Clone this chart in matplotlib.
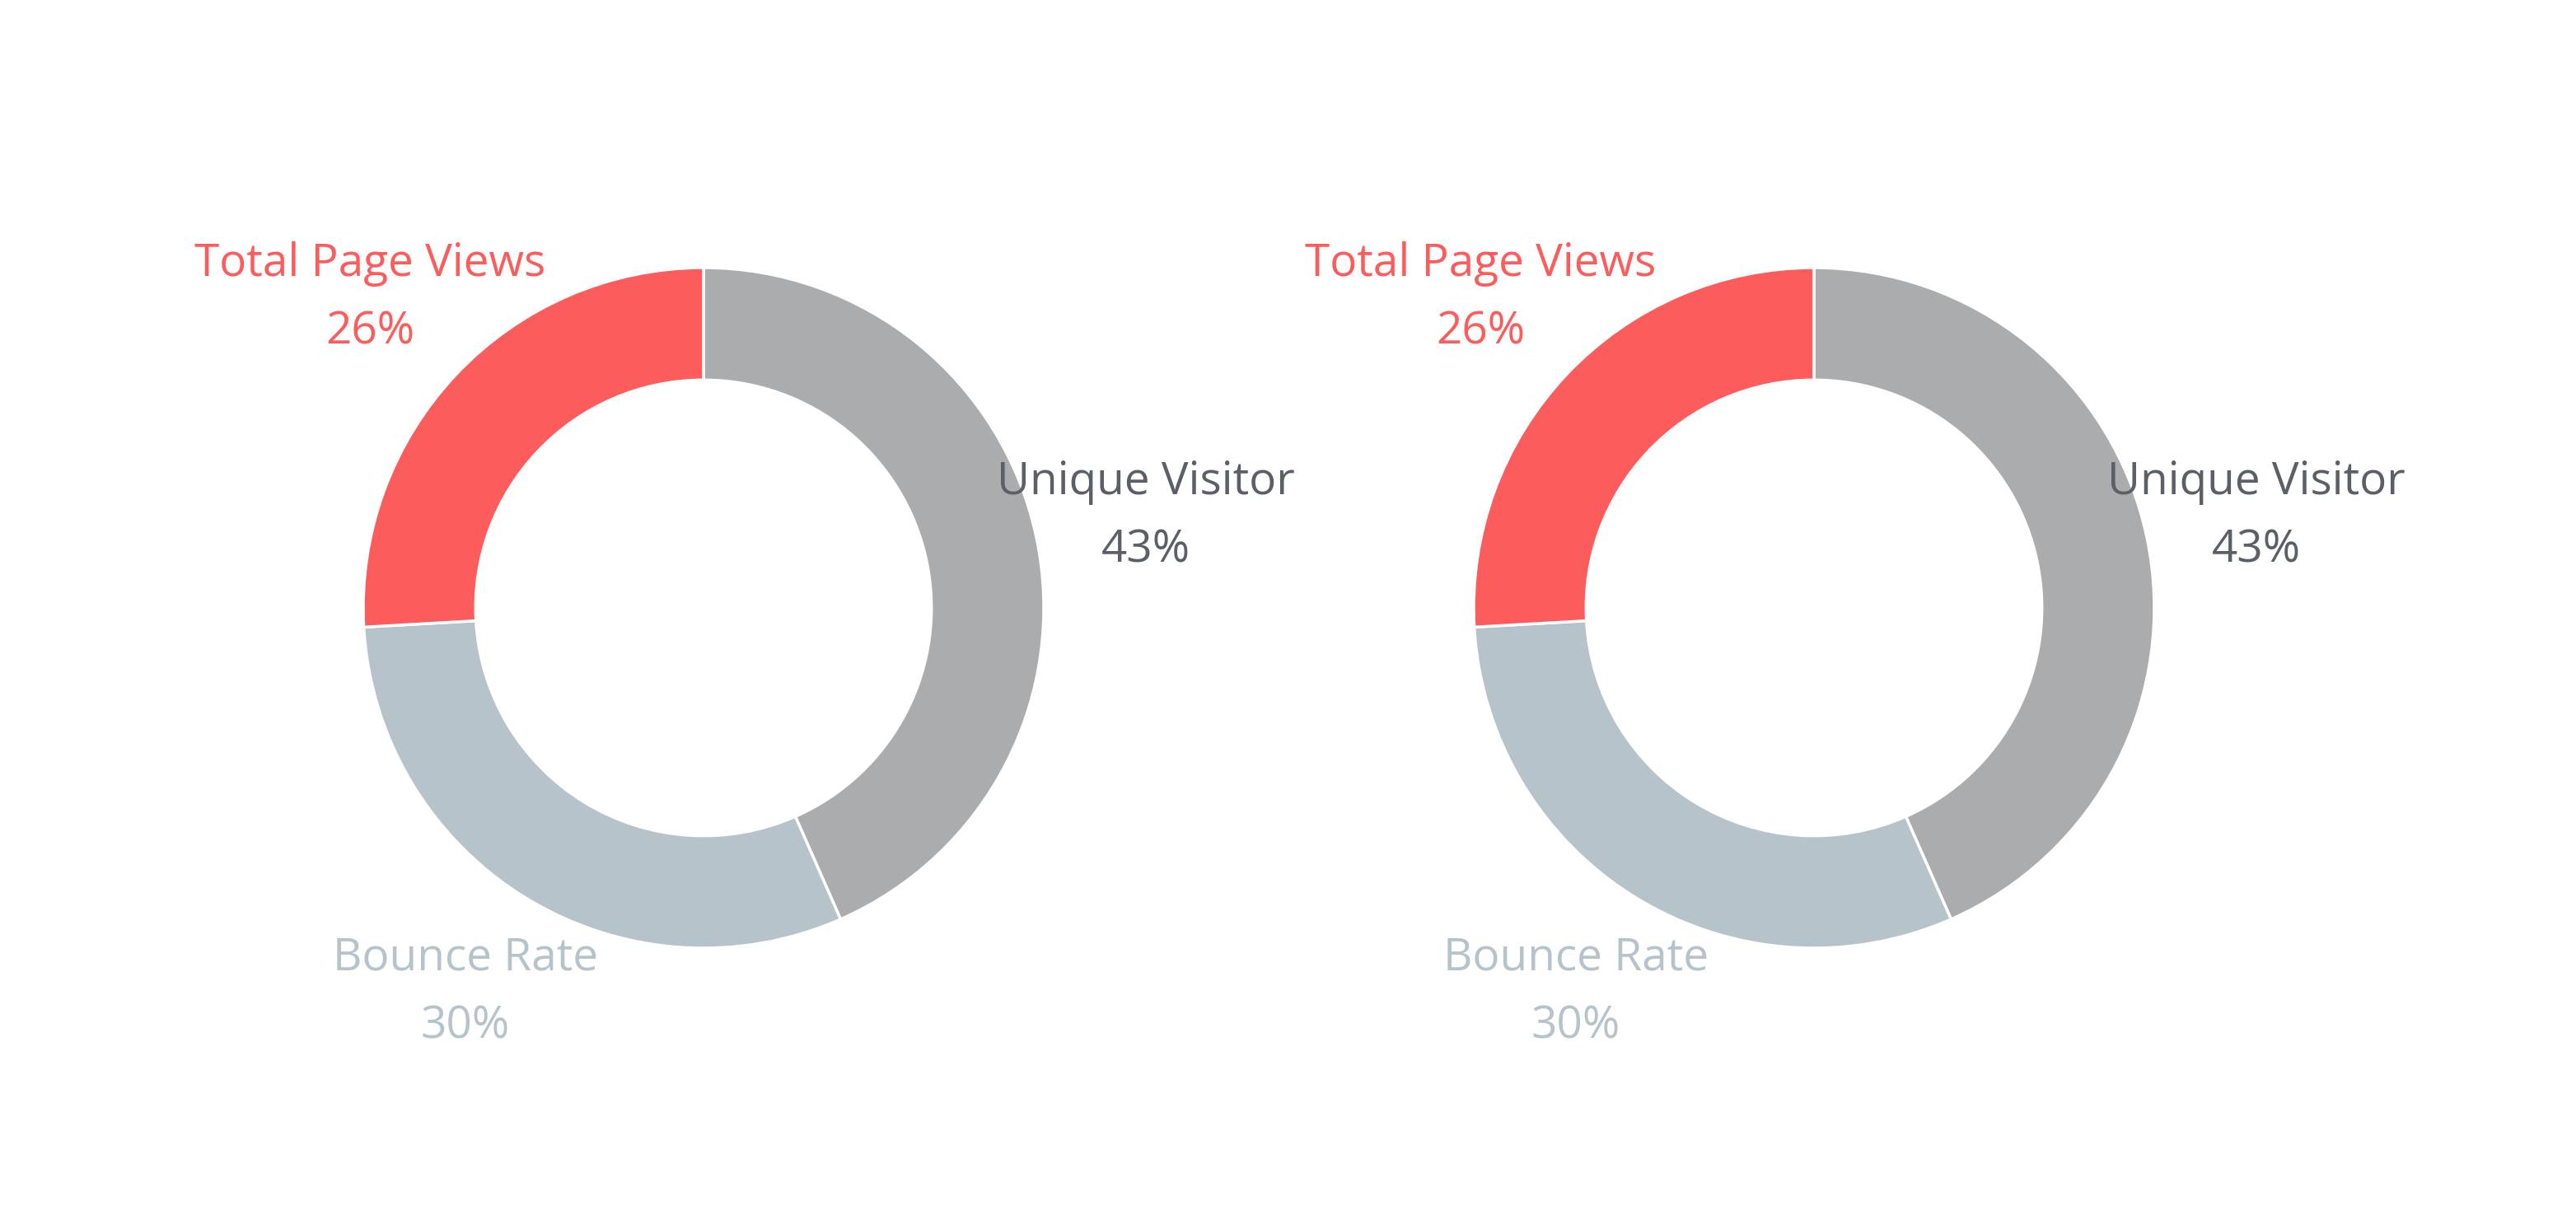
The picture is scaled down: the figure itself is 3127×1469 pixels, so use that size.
import numpy as np
from matplotlib import pyplot as plt

# two identical donuts, clockwise from the top
names = ["Unique Visitor", "Bounce Rate", "Total Page Views"]
values = [43.4, 30.7, 25.9]
pct_labels = ["43%", "30%", "26%"]
wedge_colors = ["#abacad", "#b7c3cb", "#fc5c5c"]
text_colors = ["#5b6068", "#b7c3cb", "#fc5c5c"]
# label anchor (outer radius = 1)
label_xy = [(1.30, 0.37), (-0.70, -1.03), (-0.98, 1.01)]

centers_px = [(854, 738), (2202, 738)]
W, H = 3127, 1469
R_PX = 413.
HALF = 700.

plt.rcParams['font.family'] = ['Open Sans', 'DejaVu Sans']

fig = plt.figure(figsize=(W/100., H/100.), dpi=100)
fig.patch.set_facecolor('white')

for cx, cy in centers_px:
    ax = fig.add_axes([(cx-HALF)/W, (H-cy-HALF)/H, 2*HALF/W, 2*HALF/H])
    ax.pie(values, colors=wedge_colors, startangle=90, counterclock=False,
           radius=1.0, wedgeprops=dict(width=0.33, edgecolor='white', linewidth=2.5))
    lim = HALF/R_PX
    ax.set_xlim(-lim, lim)
    ax.set_ylim(-lim, lim)
    ax.set_aspect('equal')
    ax.axis('off')
    for i in range(len(names)):
        x, y = label_xy[i]
        ax.text(x, y, names[i], color=text_colors[i], fontsize=39.5, ha='center', va='center')
        ax.text(x, y-0.2, pct_labels[i], color=text_colors[i], fontsize=39.5, ha='center', va='center')

fig.savefig('out.png', dpi=100, facecolor='white')
